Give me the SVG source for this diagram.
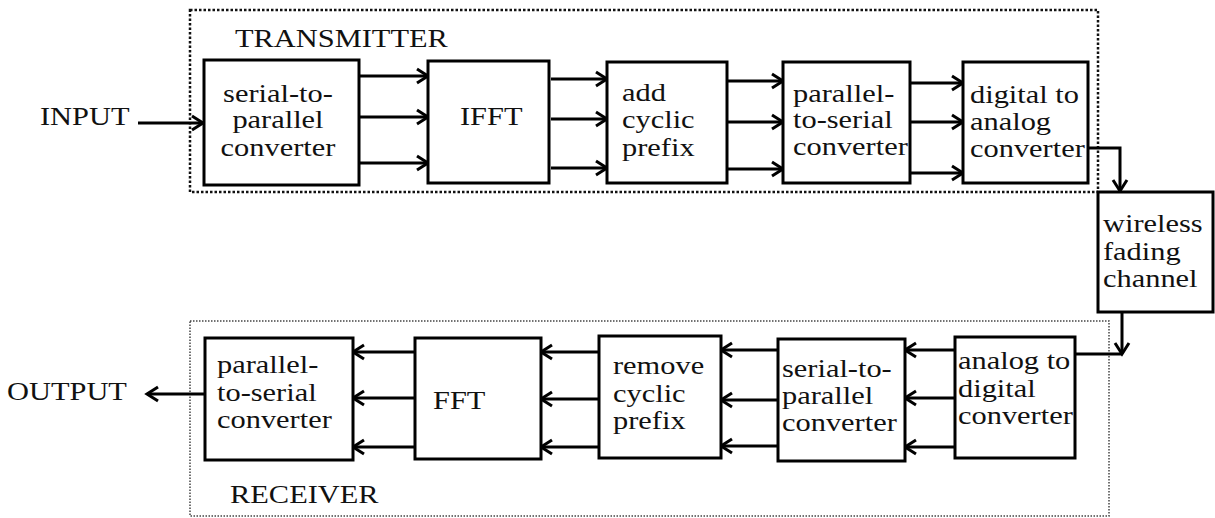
<svg xmlns="http://www.w3.org/2000/svg" width="1215" height="518" viewBox="0 0 1215 518">
  <style>
    .blk { fill: #ffffff; stroke: #000000; stroke-width: 3; }
    .lbl { font-family: "Liberation Serif", "Times New Roman", serif; font-size: 26px; fill: #111111; }
    .mid { text-anchor: middle; }
    .wire { fill: none; stroke: #000000; stroke-width: 3; }
    .arr { fill: none; stroke: #000000; stroke-width: 3; marker-end: url(#head); }
    .txZone { fill: none; stroke: #111111; stroke-width: 2.5; stroke-dasharray: 2.5 2; }
    .rxZone { fill: none; stroke: #444444; stroke-width: 1.5; stroke-dasharray: 1.5 1.5; }
  </style>
  <defs>
    <!-- open chevron arrowhead -->
    <marker id="head" markerUnits="userSpaceOnUse" markerWidth="16" markerHeight="18" refX="13" refY="9" orient="auto">
      <path d="M2,2 L13,9 L2,16" fill="none" stroke="#000000" stroke-width="3" stroke-linejoin="miter"/>
    </marker>
  </defs>

  <rect width="1215" height="518" fill="#ffffff"/>

  <!-- transmitter and receiver zones -->
  <g id="transmitter">
    <rect class="txZone" x="190" y="10" width="908" height="182"/>
    <g transform="matrix(1.17 0 0 1 -39.95 0)"><text class="lbl" x="235" y="47">TRANSMITTER</text></g>
  </g>
  <g id="receiver">
    <rect class="rxZone" x="190" y="321" width="919" height="195"/>
    <g transform="matrix(1.17 0 0 1 -39.1 0)"><text class="lbl" x="230" y="503">RECEIVER</text></g>
  </g>

  <!-- connectors -->
  <g id="connectors">
    <!-- transmit chain -->
    <line class="arr" x1="138" y1="123" x2="203" y2="123"/>
    <line class="arr" x1="359" y1="76" x2="428" y2="76"/>
    <line class="arr" x1="359" y1="117" x2="428" y2="117"/>
    <line class="arr" x1="359" y1="163" x2="428" y2="163"/>
    <line class="arr" x1="551" y1="79" x2="607" y2="79"/>
    <line class="arr" x1="551" y1="119" x2="607" y2="119"/>
    <line class="arr" x1="551" y1="168" x2="607" y2="168"/>
    <line class="arr" x1="727" y1="81" x2="783" y2="81"/>
    <line class="arr" x1="727" y1="122" x2="783" y2="122"/>
    <line class="arr" x1="727" y1="169" x2="783" y2="169"/>
    <line class="arr" x1="910" y1="83" x2="963" y2="83"/>
    <line class="arr" x1="910" y1="122" x2="963" y2="122"/>
    <line class="arr" x1="910" y1="173" x2="963" y2="173"/>
    <path class="arr" d="M1088,148 H1120 V191"/>
    <!-- channel to receiver -->
    <path class="wire" d="M1075,354 H1122"/>
    <path class="arr" d="M1122,312 V354"/>
    <!-- receive chain -->
    <line class="arr" x1="955" y1="350" x2="905" y2="350"/>
    <line class="arr" x1="955" y1="398" x2="905" y2="398"/>
    <line class="arr" x1="955" y1="447" x2="905" y2="447"/>
    <line class="arr" x1="778" y1="350" x2="721" y2="350"/>
    <line class="arr" x1="778" y1="400" x2="721" y2="400"/>
    <line class="arr" x1="778" y1="446" x2="721" y2="446"/>
    <line class="arr" x1="599" y1="352" x2="541" y2="352"/>
    <line class="arr" x1="599" y1="399" x2="541" y2="399"/>
    <line class="arr" x1="599" y1="447" x2="541" y2="447"/>
    <line class="arr" x1="415" y1="352" x2="353" y2="352"/>
    <line class="arr" x1="415" y1="398" x2="353" y2="398"/>
    <line class="arr" x1="415" y1="447" x2="353" y2="447"/>
    <line class="arr" x1="205" y1="394" x2="147" y2="394"/>
  </g>

  <!-- terminals -->
  <g id="input">
    <g transform="matrix(1.17 0 0 1 -6.8 0)"><text class="lbl" x="40" y="125">INPUT</text></g>
  </g>
  <g id="output">
    <g transform="matrix(1.17 0 0 1 -1.19 0)"><text class="lbl" x="7" y="400">OUTPUT</text></g>
  </g>

  <!-- transmitter blocks -->
  <g id="tx-serial-to-parallel">
    <rect class="blk" x="204" y="60" width="155" height="125"/>
    <g transform="matrix(1.17 0 0 1 -47.26 0)">
      <text class="lbl mid" x="278" y="102">serial-to-</text>
      <text class="lbl mid" x="278" y="128">parallel</text>
      <text class="lbl mid" x="278" y="156">converter</text>
    </g>
  </g>
  <g id="tx-ifft">
    <rect class="blk" x="428" y="61" width="121" height="122"/>
    <g transform="matrix(1.17 0 0 1 -78.2 0)"><text class="lbl" x="460" y="125">IFFT</text></g>
  </g>
  <g id="tx-add-cp">
    <rect class="blk" x="607" y="62" width="120" height="121"/>
    <g transform="matrix(1.17 0 0 1 -105.74 0)">
      <text class="lbl" x="622" y="101">add</text>
      <text class="lbl" x="622" y="128">cyclic</text>
      <text class="lbl" x="622" y="156">prefix</text>
    </g>
  </g>
  <g id="tx-parallel-to-serial">
    <rect class="blk" x="783" y="62" width="127" height="121"/>
    <g transform="matrix(1.17 0 0 1 -134.81 0)">
      <text class="lbl" x="793" y="102">parallel-</text>
      <text class="lbl" x="793" y="128">to-serial</text>
      <text class="lbl" x="793" y="155">converter</text>
    </g>
  </g>
  <g id="tx-dac">
    <rect class="blk" x="963" y="62" width="125" height="121"/>
    <g transform="matrix(1.17 0 0 1 -164.9 0)">
      <text class="lbl" x="970" y="103">digital to</text>
      <text class="lbl" x="970" y="130">analog</text>
      <text class="lbl" x="970" y="157">converter</text>
    </g>
  </g>

  <!-- channel -->
  <g id="channel">
    <rect class="blk" x="1098" y="192" width="115" height="120"/>
    <g transform="matrix(1.17 0 0 1 -187.51 0)">
      <text class="lbl" x="1103" y="232">wireless</text>
      <text class="lbl" x="1103" y="260">fading</text>
      <text class="lbl" x="1103" y="287">channel</text>
    </g>
  </g>

  <!-- receiver blocks -->
  <g id="rx-adc">
    <rect class="blk" x="955" y="337" width="120" height="121"/>
    <g transform="matrix(1.17 0 0 1 -162.86 0)">
      <text class="lbl" x="958" y="369">analog to</text>
      <text class="lbl" x="958" y="397">digital</text>
      <text class="lbl" x="958" y="424">converter</text>
    </g>
  </g>
  <g id="rx-serial-to-parallel">
    <rect class="blk" x="778" y="339" width="127" height="122"/>
    <g transform="matrix(1.17 0 0 1 -132.94 0)">
      <text class="lbl" x="782" y="377">serial-to-</text>
      <text class="lbl" x="782" y="404">parallel</text>
      <text class="lbl" x="782" y="431">converter</text>
    </g>
  </g>
  <g id="rx-remove-cp">
    <rect class="blk" x="599" y="336" width="122" height="122"/>
    <g transform="matrix(1.17 0 0 1 -104.21 0)">
      <text class="lbl" x="613" y="374">remove</text>
      <text class="lbl" x="613" y="402">cyclic</text>
      <text class="lbl" x="613" y="429">prefix</text>
    </g>
  </g>
  <g id="rx-fft">
    <rect class="blk" x="415" y="338" width="126" height="121"/>
    <g transform="matrix(1.17 0 0 1 -73.61 0)"><text class="lbl" x="433" y="409">FFT</text></g>
  </g>
  <g id="rx-parallel-to-serial">
    <rect class="blk" x="205" y="338" width="148" height="122"/>
    <g transform="matrix(1.17 0 0 1 -36.89 0)">
      <text class="lbl" x="217" y="373">parallel-</text>
      <text class="lbl" x="217" y="401">to-serial</text>
      <text class="lbl" x="217" y="428">converter</text>
    </g>
  </g>
</svg>
